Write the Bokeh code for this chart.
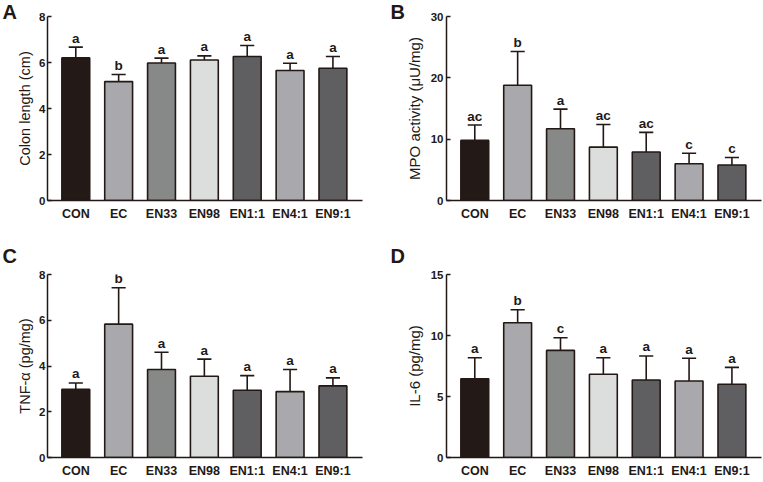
from bokeh.plotting import figure
from bokeh.layouts import column, row
from bokeh.models import Range1d, FixedTicker, ColumnDataSource, Label
from bokeh.core.properties import value
from bokeh.embed import file_html
from bokeh.resources import INLINE

categories = ["CON", "EC", "EN33", "EN98", "EN1:1", "EN4:1", "EN9:1"]
bar_colors = ["#231a18", "#a9a9ad", "#868988", "#dcdedd", "#5f5f61", "#a9a9ad", "#5f5f61"]

colon_mean = [6.20, 5.17, 5.98, 6.11, 6.26, 5.65, 5.75]
colon_sd = [0.47, 0.31, 0.21, 0.18, 0.48, 0.32, 0.51]
colon_letters = ["a", "b", "a", "a", "a", "a", "a"]

mpo_mean = [9.8, 18.8, 11.7, 8.7, 7.9, 6.0, 5.8]
mpo_sd = [2.5, 5.5, 3.2, 3.7, 3.2, 1.7, 1.2]
mpo_letters = ["ac", "b", "a", "ac", "ac", "c", "c"]

tnf_mean = [2.98, 5.83, 3.85, 3.55, 2.94, 2.88, 3.13]
tnf_sd = [0.28, 1.59, 0.75, 0.75, 0.64, 0.97, 0.35]
tnf_letters = ["a", "b", "a", "a", "a", "a", "a"]

il6_mean = [6.46, 11.04, 8.78, 6.82, 6.35, 6.27, 6.00]
il6_sd = [1.72, 1.07, 1.04, 1.36, 1.97, 1.86, 1.39]
il6_letters = ["a", "b", "c", "a", "a", "a", "a"]

colon_ticks = [0, 2, 4, 6, 8]
mpo_ticks = [0, 10, 20, 30]
tnf_ticks = [0, 2, 4, 6, 8]
il6_ticks = [0, 5, 10, 15]

INK = "#231815"
FONT = "Liberation Sans"


def panel(letter, ylabel, means, sds, letters, ticks, width, height,
          bl, br, bt, bb, letter_top, compact):
    p = figure(width=width, height=height, output_backend="svg",
               toolbar_location=None, x_range=Range1d(-0.66, 6.69),
               y_range=Range1d(ticks[0], ticks[-1]),
               min_border_left=bl, min_border_right=br,
               min_border_top=bt, min_border_bottom=bb)
    p.outline_line_color = None
    p.grid.visible = False

    frame_bottom = height - bb
    p.add_layout(Label(x=2, y=frame_bottom - letter_top, x_units="screen",
                       y_units="screen", text=letter, text_font=FONT,
                       text_font_style="bold", text_font_size="20px",
                       text_color=INK, text_baseline="top",
                       text_align="left"), "left")

    xs = list(range(len(categories)))
    tops = [m + s for m, s in zip(means, sds)]
    src = ColumnDataSource(dict(x=xs, mean=means, top=tops, color=bar_colors,
                                lab=letters,
                                cx0=[x - 0.165 for x in xs],
                                cx1=[x + 0.165 for x in xs]))
    p.segment(x0="x", y0="mean", x1="x", y1="top", source=src,
              line_color=INK, line_width=1.6)
    p.segment(x0="cx0", y0="top", x1="cx1", y1="top", source=src,
              line_color=INK, line_width=1.6)
    p.vbar(x="x", top="mean", bottom=0, width=0.65, source=src,
           fill_color="color", line_color=INK, line_width=1.6)
    p.text(x="x", y="top", text="lab", source=src, text_align="center",
           text_baseline="alphabetic", y_offset=-9,
           text_font=value(FONT), text_font_style="bold",
           text_font_size="13.5px", text_color=INK)

    xa = p.xaxis[0]
    xa.ticker = FixedTicker(ticks=xs)
    xa.major_label_overrides = {i: c for i, c in enumerate(categories)}
    xa.major_tick_in = 0
    xa.major_tick_out = 0
    xa.minor_tick_line_color = None
    xa.axis_line_width = 1.5
    xa.axis_line_color = INK
    xa.major_label_standoff = 6
    xa.axis_label_standoff = 0
    xa.major_label_text_font = FONT
    xa.major_label_text_font_style = "bold"
    xa.major_label_text_font_size = "12.5px"
    xa.major_label_text_color = INK

    ya = p.yaxis[0]
    ya.ticker = FixedTicker(ticks=ticks)
    ya.major_tick_in = 4
    ya.major_tick_out = 0
    ya.major_tick_line_width = 1.5
    ya.major_tick_line_color = INK
    ya.minor_tick_line_color = None
    ya.axis_line_width = 1.5
    ya.axis_line_color = INK
    ya.major_label_standoff = 2 if compact else 3
    ya.major_label_text_font = FONT
    ya.major_label_text_font_style = "bold"
    ya.major_label_text_font_size = "11.5px"
    ya.major_label_text_color = INK
    ya.axis_label = ylabel
    ya.axis_label_standoff = 3 if compact else 5
    ya.axis_label_text_font = FONT
    ya.axis_label_text_font_style = "normal"
    ya.axis_label_text_font_size = "14.5px" if compact else "15px"
    ya.axis_label_text_color = INK
    return p


pa = panel("A", "Colon length (cm)", colon_mean, colon_sd, colon_letters,
           colon_ticks, 380, 240, 47, 18, 16, 40, 0, True)
pb = panel("B", "MPO activity (\u03bcU/mg)", mpo_mean, mpo_sd, mpo_letters,
           mpo_ticks, 382, 240, 66, 1, 16, 40, 0, False)
pc = panel("C", "TNF-\u03b1 (pg/mg)", tnf_mean, tnf_sd, tnf_letters,
           tnf_ticks, 380, 241, 47, 18, 34, 24, 4, True)
pd = panel("D", "IL-6 (pg/mg)", il6_mean, il6_sd, il6_letters,
           il6_ticks, 382, 241, 66, 1, 34, 24, 4, False)

layout = column(row(pa, pb), row(pc, pd))
open("out.html", "w").write(file_html(layout, INLINE))
